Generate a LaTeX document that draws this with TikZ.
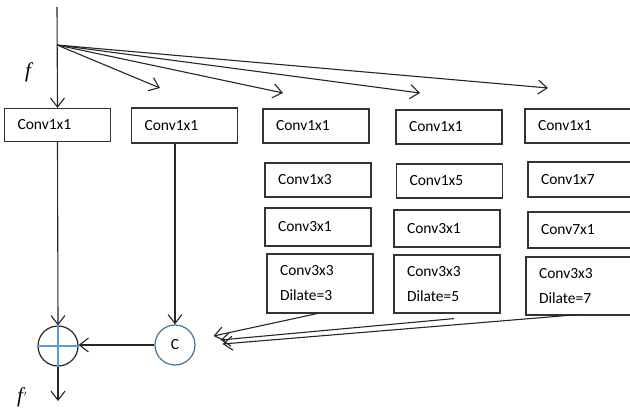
\documentclass[tikz,border=0pt]{standalone}
\usepackage{fontspec}
\newfontfamily\boxfont{Carlito}
\newfontfamily\labfont{Liberation Serif}
\usetikzlibrary{arrows.meta,calc}
\definecolor{ringblue}{HTML}{41719C}
\definecolor{crossblue}{HTML}{5B9BD5}
\tikzset{
  conn/.style={draw=black!85, line width=1.1pt},
  arr/.style={conn, -{Straight Barb[length=9pt,width=14pt,line width=1.1pt]}},
  convbox/.style={draw=black!80, line width=1.2pt, font=\boxfont\fontsize{15.5}{25}\selectfont,
    inner xsep=13pt, inner ysep=0pt, text width=80pt, align=left, minimum height=34pt},
  ring/.style={circle, draw, line width=1.2pt, minimum size=40pt, inner sep=0pt},
  flabel/.style={font=\labfont\itshape\fontsize{21}{24}\selectfont},
}
\begin{document}
\begin{tikzpicture}[x=1pt,y=-1pt]
  \useasboundingbox (0,0) rectangle (630,412);
  \clip (0,0) rectangle (630,412);

  % first row: 1x1 convolutions
  \node[convbox, minimum height=33pt] (b11) at (57.5,125) {Conv1x1};
  \node[convbox, minimum height=35pt] (b12) at (184.5,125.5) {Conv1x1};
  \node[convbox] (b13) at (316,126) {Conv1x1};
  \node[convbox] (b14) at (449,127) {Conv1x1};
  \node[convbox] (b15) at (578,126) {Conv1x1};

  % second row
  \node[convbox] (b23) at (318,180) {Conv1x3};
  \node[convbox] (b24) at (449.5,181) {Conv1x5};
  \node[convbox, minimum height=35pt] (b25) at (581,179.5) {Conv1x7};

  % third row
  \node[convbox, minimum height=38pt] (b33) at (318,227) {Conv3x1};
  \node[convbox, minimum height=37pt] (b34) at (447,228.5) {Conv3x1};
  \node[convbox, minimum height=36pt] (b35) at (581,230) {Conv7x1};

  % fourth row: dilated 3x3 convolutions
  \node[convbox, minimum height=59pt] (b43) at (320,283.5) {Conv3x3\\Dilate=3};
  \node[convbox, minimum height=58pt] (b44) at (447,284) {Conv3x3\\Dilate=5};
  \node[convbox, minimum height=58pt] (b45) at (579,286) {Conv3x3\\Dilate=7};

  % sum and concatenation
  \node[ring, draw=black!85] (sum) at (58,346) {};
  \draw[crossblue, line width=1.2pt] (sum.north) -- (sum.south) (sum.west) -- (sum.east);
  \node[ring, draw=ringblue, font=\boxfont\fontsize{15.5}{18}\selectfont] (cat) at (175,345) {C};

  % labels
  \node[flabel] (flab) at (28,72) {f};
  \node[flabel] (fout) at (22,397) {f\kern1pt\raisebox{1pt}{\fontsize{12}{12}\selectfont\upshape$'$}};

  % input and fan-out
  \coordinate (top) at (57,7);
  \coordinate (split) at (57,45);
  \coordinate (t2) at (160,88);
  \coordinate (t3) at (283,93);
  \coordinate (t4) at (420,93);
  \coordinate (t5) at (548,88);
  \draw[arr] (top) -- (b11.north);
  \draw[arr] (split) -- (t2);
  \draw[arr] (split) -- (t3);
  \draw[arr] (split) -- (t4);
  \draw[arr] (split) -- (t5);

  % paths into the sum and the concatenation
  \draw[arr] (b11.south) -- (sum.north);
  \draw[arr] (cat.north |- b12.south) -- (cat.north);
  \draw[arr] (cat.west) -- (cat.west -| sum.east);
  \coordinate (out) at (58,401);
  \draw[arr] (sum.south) -- (out);

  % dilated branches into the concatenation
  \coordinate (s3) at ($(b43.south)+(-3,0)$);
  \coordinate (s4) at ($(b44.south)+(7,5)$);
  \coordinate (s5) at ($(b45.south)+(-1,-1)$);
  \coordinate (e3) at ($(cat.east)+(18,-9)$);
  \coordinate (e4) at ($(cat.east)+(25,-5)$);
  \coordinate (e5) at ($(cat.east)+(27,-1)$);
  \draw[arr] (s3) -- (e3);
  \draw[arr] (s4) -- (e4);
  \draw[arr] (s5) -- (e5);
\end{tikzpicture}
\end{document}
